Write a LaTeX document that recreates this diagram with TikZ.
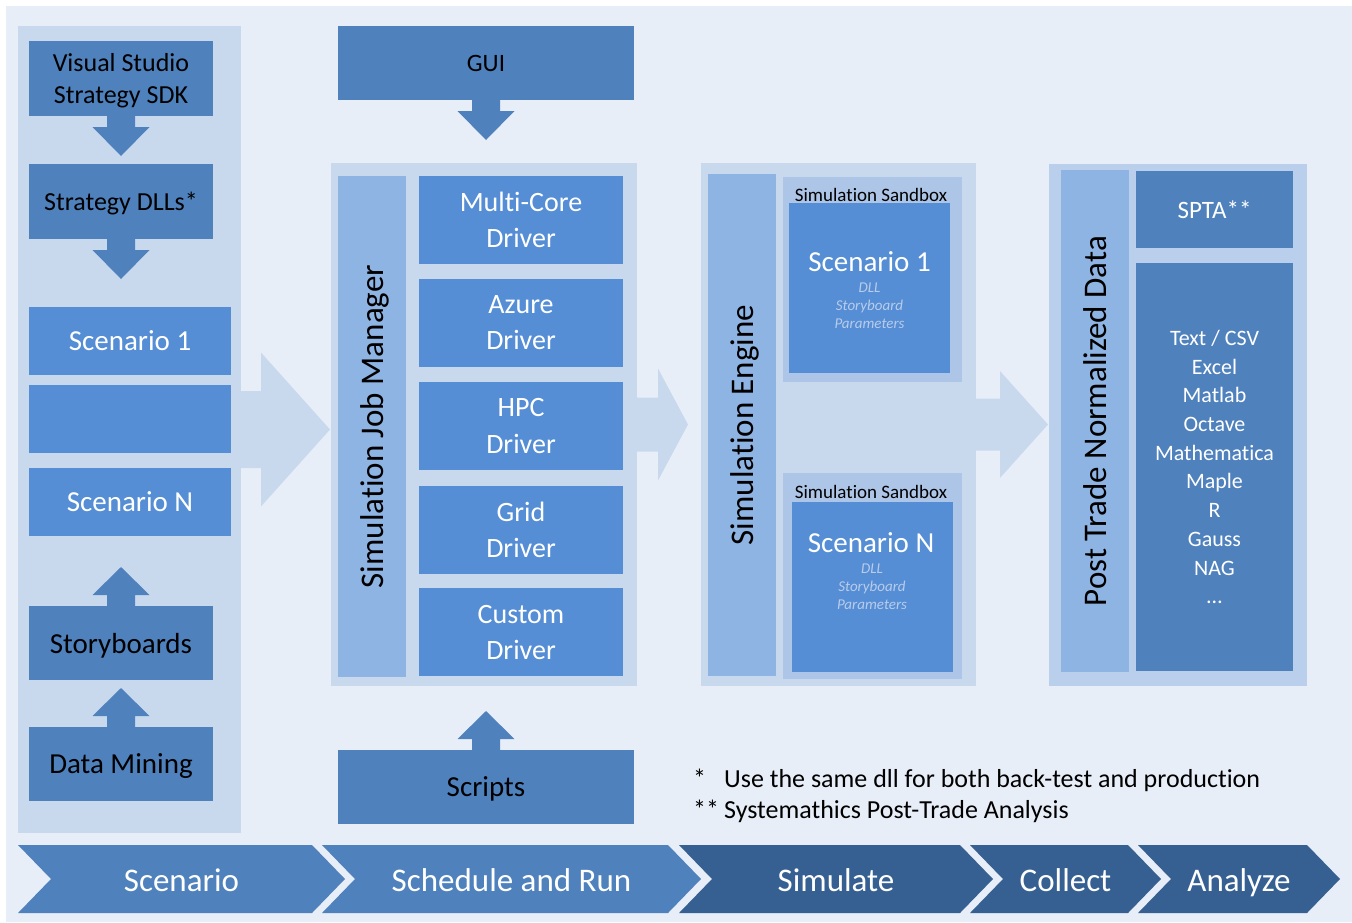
\documentclass[tikz,border=0pt]{standalone}
\usepackage{fontspec}
\setmainfont{Carlito}[Ligatures=NoCommon]
\definecolor{pagebg}{HTML}{E8EEF8}
\definecolor{panelblue}{HTML}{C8D9EE}
\definecolor{postpanel}{HTML}{B9CFEB}
\definecolor{sandboxblue}{HTML}{ADC6E8}
\definecolor{barblue}{HTML}{8EB4E3}
\definecolor{boxmid}{HTML}{558ED5}
\definecolor{boxdark}{HTML}{4F81BD}
\definecolor{chevdark}{HTML}{376092}
\definecolor{notegray}{HTML}{B9CCEA}
\newcommand{\setfs}[2]{\fontsize{#1}{#2}\selectfont}
\newcommand{\arrowdown}[1]{\fill[blockarrow] (#1) ++(-14,0) -- ++(0,11) -- ++(-14.5,0) -- ++(28.5,29) -- ++(28.5,-29) -- ++(-14.5,0) -- ++(0,-11) -- cycle;}
\newcommand{\arrowup}[1]{\fill[blockarrow] (#1) ++(-14,0) -- ++(0,-11) -- ++(-14.5,0) -- ++(28.5,-28) -- ++(28.5,28) -- ++(-14.5,0) -- ++(0,11) -- cycle;}
\tikzset{
  panel/.style={fill=panelblue, inner sep=0pt, outer sep=0pt},
  darkbox/.style={fill=boxdark, inner sep=0pt, outer sep=0pt, align=center},
  midbox/.style={fill=boxmid, inner sep=0pt, outer sep=0pt, align=center, text=white},
  sidebar/.style={fill=barblue, inner sep=0pt, outer sep=0pt, rotate=90, text depth=0pt, font=\setfs{33}{40}},
  sandbox/.style={fill=sandboxblue, inner sep=0pt, outer sep=0pt},
  detail/.style={text=notegray, font=\setfs{15}{18}\itshape, align=center, inner sep=0pt},
  phase/.style={text=white, font=\setfs{33}{40}, inner sep=0pt, text depth=0pt},
  bigarrow/.style={fill=panelblue},
  blockarrow/.style={fill=boxdark},
}
\begin{document}
\begin{tikzpicture}[x=1pt,y=-1pt]
\useasboundingbox (0,0) rectangle (1352,922);
\fill[pagebg] (6,6) rectangle (1352,922);

\node[panel, minimum width=223pt, minimum height=807pt] (colscen) at (129.5,429.5) {};
\node[darkbox, minimum width=184pt, minimum height=75pt, text depth=0pt, font=\setfs{26}{32}] (vs) at (121,78.5) {Visual Studio\\Strategy SDK};
\node[darkbox, minimum width=184pt, minimum height=75pt, text depth=0pt, font=\setfs{26}{32}] (dll) at (121,201.5) {Strategy DLLs*};
\node[midbox, minimum width=202pt, minimum height=68pt, font=\setfs{29}{36}] (scen1) at (130,341) {Scenario 1};
\node[midbox, minimum width=202pt, minimum height=68pt] (scenx) at (130,419) {};
\node[midbox, minimum width=202pt, minimum height=68pt, font=\setfs{29}{36}] (scenN) at (130,502) {Scenario N};
\node[darkbox, minimum width=184pt, minimum height=74pt, text depth=0pt, font=\setfs{29}{36}] (story) at (121,643) {Storyboards};
\node[darkbox, minimum width=184pt, minimum height=74pt, text depth=0pt, font=\setfs{29}{36}] (mining) at (121,764) {Data Mining};
\arrowdown{vs.south}
\arrowdown{dll.south}
\arrowup{story.north}
\arrowup{mining.north}
\fill[bigarrow] (colscen.east) ++(0,-38.5) -- ++(20,0) -- ++(0,-38.5) -- ++(69,77) -- ++(-69,77) -- ++(0,-38.5) -- ++(-20,0) -- cycle;

\node[darkbox, minimum width=296pt, minimum height=74pt, font=\setfs{25}{30}] (gui) at (486,63) {GUI};
\arrowdown{gui.south}
\node[panel, minimum width=306pt, minimum height=523pt] (colsched) at (484,424.5) {};
\node[sidebar, minimum width=501pt, minimum height=68pt] (jobmgr) at (372,426.5) {Simulation Job Manager};
\node[midbox, minimum width=204pt, minimum height=88pt, font=\setfs{28}{36}] (multicore) at (521,220) {Multi-Core\\Driver};
\node[midbox, minimum width=204pt, minimum height=88pt, font=\setfs{28}{36}] (azure) at (521,323) {Azure\\Driver};
\node[midbox, minimum width=204pt, minimum height=88pt, font=\setfs{28}{36}] (hpc) at (521,426) {HPC\\Driver};
\node[midbox, minimum width=204pt, minimum height=88pt, font=\setfs{28}{36}] (grid) at (521,530) {Grid\\Driver};
\node[midbox, minimum width=204pt, minimum height=88pt, font=\setfs{28}{36}] (custom) at (521,632) {Custom\\Driver};
\node[darkbox, minimum width=296pt, minimum height=74pt, text depth=0pt, font=\setfs{29}{36}] (scripts) at (486,787) {Scripts};
\arrowup{scripts.north}
\fill[bigarrow] (colsched.east) ++(0,-27) -- ++(21,0) -- ++(0,-29) -- ++(30,56) -- ++(-30,56) -- ++(0,-29) -- ++(-21,0) -- cycle;

\node[panel, minimum width=275pt, minimum height=523pt] (colsim) at (838.5,424.5) {};
\node[sidebar, minimum width=502pt, minimum height=68pt] (engine) at (742,425) {Simulation Engine};
\node[sandbox, minimum width=179pt, minimum height=205pt] (sandbox1) at (872.5,279.5) {};
\node[font=\setfs{19}{22}, inner sep=0pt] (sblabel1) at (871,195) {Simulation Sandbox};
\node[midbox, minimum width=161pt, minimum height=170pt] (run1) at (869.5,288) {};
\node[text=white, font=\setfs{29}{36}, inner sep=0pt] (run1title) at (869.5,262) {Scenario 1};
\node[detail] (run1info) at (869.5,306) {DLL\\Storyboard\\Parameters};
\node[sandbox, minimum width=179pt, minimum height=206pt] (sandbox2) at (872.5,576) {};
\node[font=\setfs{19}{22}, inner sep=0pt] (sblabel2) at (871,492) {Simulation Sandbox};
\node[midbox, minimum width=161pt, minimum height=170pt] (runN) at (872.5,587) {};
\node[text=white, font=\setfs{29}{36}, inner sep=0pt] (runNtitle) at (871,543) {Scenario N};
\node[detail] (runNinfo) at (872,587) {DLL\\Storyboard\\Parameters};
\fill[bigarrow] (colsim.east) ++(0,-26) -- ++(24,0) -- ++(0,-27.5) -- ++(48,53.5) -- ++(-48,53.5) -- ++(0,-27.5) -- ++(-24,0) -- cycle;

\node[fill=postpanel, inner sep=0pt, minimum width=258pt, minimum height=522pt] (colcoll) at (1178,425) {};
\node[sidebar, minimum width=502pt, minimum height=68pt] (postdata) at (1095,421) {Post Trade Normalized Data};
\node[darkbox, text=white, minimum width=157pt, minimum height=77pt, font=\setfs{25}{30}] (spta) at (1214.5,209.5) {SPTA**};
\node[darkbox, text=white, minimum width=157pt, minimum height=408pt, font=\setfs{22}{28.7}] (tools) at (1214.5,467) {Text / CSV\\Excel\\Matlab\\Octave\\Mathematica\\Maple\\R\\Gauss\\NAG\\\dots};

\node[anchor=base west, font=\setfs{26}{32}, inner sep=0pt] (note1) at (693,787) {\makebox[31pt][l]{*}Use the same dll for both back-test and production};
\node[anchor=base west, font=\setfs{26}{32}, inner sep=0pt] (note2) at (693,818) {\makebox[31pt][l]{**}Systemathics Post-Trade Analysis};

\foreach \xl/\xr/\col/\nm/\txt in {18/312/boxdark/scen/Scenario, 322/668/boxdark/sched/Schedule and Run, 679/960/chevdark/sim/Simulate, 970/1128/chevdark/coll/Collect, 1138/1307/chevdark/anal/Analyze}{
  \fill[\col] (\xl,845) -- (\xr,845) -- ++(33,34) -- (\xr,913) -- (\xl,913) -- ++(33,-34) -- cycle;
  \node[phase] (ph\nm) at ({(\xl+\xr+33)/2},880) {\txt};
}
\end{tikzpicture}
\end{document}
